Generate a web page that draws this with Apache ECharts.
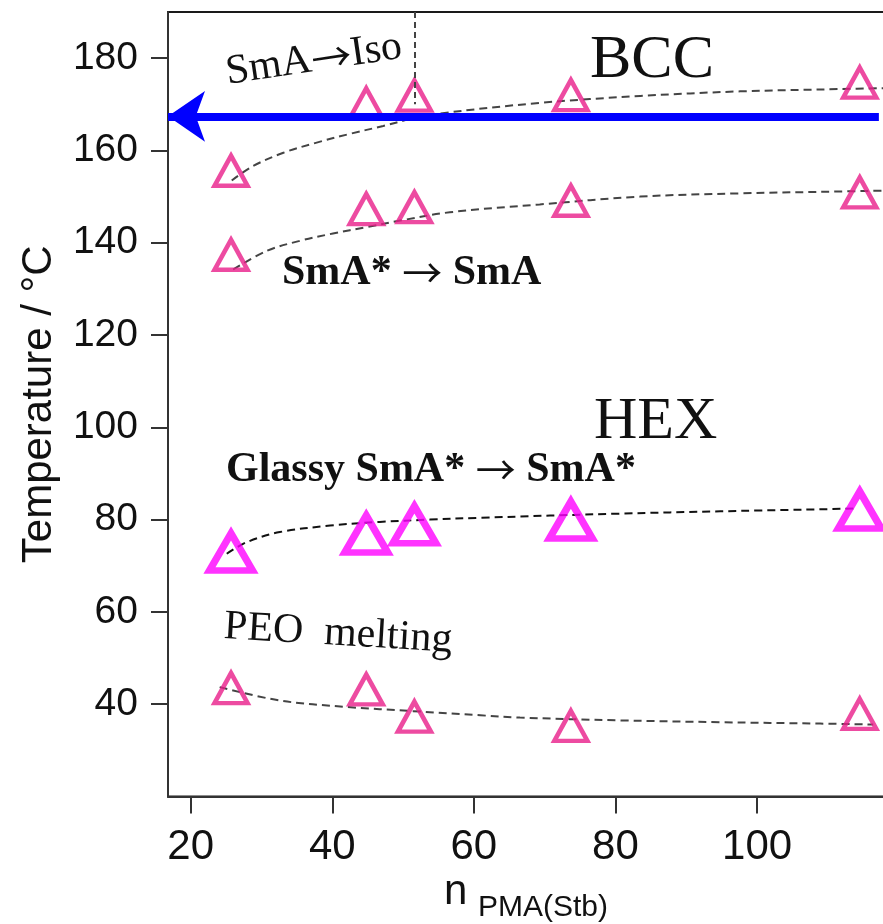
<!DOCTYPE html>
<html>
<head>
<meta charset="utf-8">
<script src="https://cdn.jsdelivr.net/npm/echarts@6/dist/echarts.min.js"></script>
<style>
  html, body { margin: 0; padding: 0; background: #ffffff; }
  #chart { width: 883px; height: 924px; }
</style>
</head>
<body>
<div id="chart"></div>
<script>
// Degree of polymerisation of the PMA(Stb) block
const nPMA = [25.7, 44.8, 51.6, 73.7, 114.5];

// Transition temperatures (°C) for each sample
const tSmAIso     = [155.6, 170.2, 171.9, 172.0, 174.7];
const tSmAstarSmA = [137.4, 147.3, 147.7, 149.1, 150.9];
const tGlassy     = [73.0, 76.9, 78.9, 79.9, 82.1];
const tPEO        = [43.5, 43.2, 37.3, 35.3, 37.9];

// Guide curves drawn through each transition
const guideIsoN = [25.8, 28.8, 33.1, 37.8, 42.5, 47.2, 51.0, 55.2, 69.3, 83.5, 97.6, 111.7, 117.8];
const guideIsoT = [153.5, 156.6, 159.5, 161.7, 163.6, 165.3, 166.8, 168.0, 170.3, 171.8, 172.8, 173.3, 173.5];

const guideSmAN = [26.0, 30.7, 35.4, 40.1, 44.9, 49.6, 56.6, 69.3, 83.5, 97.6, 111.7, 117.8];
const guideSmAT = [134.2, 138.2, 140.4, 142.0, 143.4, 144.8, 146.6, 148.3, 150.0, 150.7, 151.1, 151.3];

const guideGlassyN = [25.1, 27.9, 32.6, 39.7, 46.7, 53.8, 60.9, 80.6, 94.8, 114.1];
const guideGlassyT = [72.6, 75.1, 77.3, 78.7, 79.5, 80.0, 80.4, 81.3, 81.8, 82.4];

const guidePEON = [24.1, 32.6, 42.0, 51.4, 60.9, 66.5, 80.6, 94.7, 108.9, 116.4];
const guidePEOT = [43.7, 40.8, 39.4, 38.5, 37.6, 37.1, 36.5, 36.1, 35.8, 35.6];

// Axis ranges and tick labels
const xRange = [16.8, 120];
const yRange = [20, 190];
const xTicks = [20, 40, 60, 80, 100];
const yTicks = [40, 60, 80, 100, 120, 140, 160, 180];

// BCC / HEX boundary (arrow) and the SmA -> Iso limit marker
const boundaryT = 167.4;
const arrowFromN = 16.8;
const arrowToN = 117.2;
const isoLimitN = 51.6;
const isoLimitT = [190, 170];

const pair = (xs, ys) => xs.map((x, i) => [x, ys[i]]);

const PINK = '#e91e8a';
const MAGENTA = '#ff00ff';
const SANS = 'Liberation Sans, Arial, Helvetica, sans-serif';
const SERIF = 'Liberation Serif, Times New Roman, serif';
const ARROW_FONT = 'Noto Sans CJK SC, DejaVu Sans, sans-serif';

function guide(name, xs, ys, color) {
  return {
    name: name, type: 'line', data: pair(xs, ys),
    showSymbol: false, smooth: 0.35, silent: true, z: 2,
    lineStyle: { color: color, width: 2, type: [8, 5] }
  };
}

function markers(name, ys, color, size, width) {
  return {
    name: name, type: 'scatter', data: pair(nPMA, ys),
    symbol: 'triangle', symbolSize: size, z: 3, silent: true,
    itemStyle: { color: 'rgba(0,0,0,0)', borderColor: color, borderWidth: width }
  };
}

function label(x, y, text, font, rotation, arrowSize) {
  return {
    type: 'text', x: x, y: y, rotation: rotation || 0, z: 10, silent: true,
    style: {
      text: text, font: font, fill: '#111', align: 'left', verticalAlign: 'middle',
      rich: {
        r: { fontFamily: ARROW_FONT, fontSize: arrowSize || 42, fontWeight: 'normal', fill: '#111' }
      }
    }
  };
}

const chart = echarts.init(document.getElementById('chart'), null, { renderer: 'canvas' });

chart.setOption({
  animation: false,
  backgroundColor: '#ffffff',
  grid: {
    left: 168, top: 12, bottom: 127.5, right: -15.7,
    outerBoundsMode: 'none', containLabel: false,
    show: true, borderColor: '#1a1a1a', borderWidth: 2, backgroundColor: 'transparent'
  },
  xAxis: {
    type: 'value', min: xRange[0], max: xRange[1],
    axisLine: { show: true, lineStyle: { color: '#333', width: 2 } },
    axisTick: { show: true, customValues: xTicks, length: 17, inside: false, lineStyle: { color: '#333', width: 2 } },
    axisLabel: { customValues: xTicks, margin: 30, fontSize: 42, fontFamily: SANS, color: '#111' },
    splitLine: { show: false }
  },
  yAxis: {
    type: 'value', min: yRange[0], max: yRange[1],
    name: 'Temperature / °C', nameLocation: 'middle', nameGap: 108,
    nameTextStyle: { fontSize: 42, fontFamily: SANS, color: '#111' },
    axisLine: { show: true, lineStyle: { color: '#333', width: 2 } },
    axisTick: { show: true, customValues: yTicks, length: 17, inside: false, lineStyle: { color: '#333', width: 2 } },
    axisLabel: { customValues: yTicks, margin: 30, fontSize: 39, fontFamily: SANS, color: '#111' },
    splitLine: { show: false }
  },
  series: [
    guide('SmA-Iso fit', guideIsoN, guideIsoT, '#444'),
    guide('SmA*-SmA fit', guideSmAN, guideSmAT, '#444'),
    guide('Glassy fit', guideGlassyN, guideGlassyT, '#111'),
    guide('PEO fit', guidePEON, guidePEOT, '#444'),
    markers('SmA → Iso', tSmAIso, PINK, [33, 30], 4.5),
    markers('SmA* → SmA', tSmAstarSmA, PINK, [33, 30], 4.5),
    markers('Glassy SmA* → SmA*', tGlassy, MAGENTA, [43, 37], 7),
    markers('PEO melting', tPEO, PINK, [33, 30], 4.5),
    {
      name: 'boundaries', type: 'line', data: [], silent: true, z: 6,
      markLine: {
        silent: true, animation: false,
        label: { show: false },
        emphasis: { disabled: true },
        data: [
          [
            { coord: [arrowFromN, boundaryT], symbol: 'arrow', symbolSize: [38, 37],
              lineStyle: { color: '#0000ff', width: 8, type: 'solid' } },
            { coord: [arrowToN, boundaryT], symbol: 'none' }
          ],
          [
            { coord: [isoLimitN, isoLimitT[0]], symbol: 'none',
              lineStyle: { color: '#444', width: 2, type: [6, 4] } },
            { coord: [isoLimitN, isoLimitT[1]], symbol: 'none' }
          ]
        ]
      }
    }
  ],
  graphic: [
    label(590, 61, 'BCC', '62px ' + SERIF),
    label(594, 422, 'HEX', '60px ' + SERIF),
    label(226, 73, 'SmA{r|→}Iso', '42px ' + SERIF, 0.148, 40),
    label(282, 273, 'SmA* {r|→} SmA', 'bold 42px ' + SERIF, 0, 40),
    label(226, 470, 'Glassy SmA* {r|→} SmA*', 'bold 42px ' + SERIF, 0, 40),
    label(224, 627, 'PEO  melting', '42px ' + SERIF, -0.06),
    label(444, 892, 'n', '42px ' + SANS),
    label(478, 908, 'PMA(Stb)', '30px ' + SANS)
  ]
});
</script>
</body>
</html>
